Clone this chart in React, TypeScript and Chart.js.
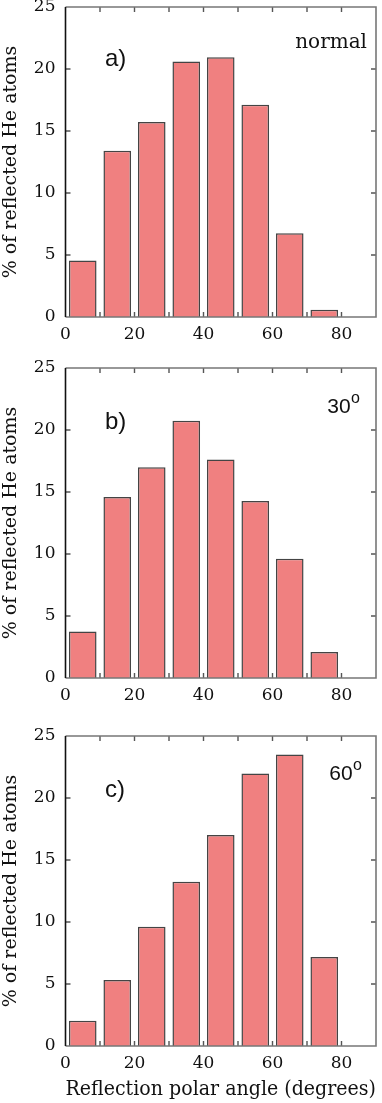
import React, { useEffect, useRef } from "react";
import { Chart, registerables } from "chart.js";

Chart.register(...registerables);

const binCenters = [5, 15, 25, 35, 45, 55, 65, 75];
const normalValues = [4.56, 13.41, 15.72, 20.6, 20.95, 17.11, 6.76, 0.59];
const deg30Values = [3.76, 14.6, 17.0, 20.75, 17.63, 14.27, 9.62, 2.1];
const deg60Values = [2.04, 5.32, 9.61, 13.24, 17.02, 21.97, 23.5, 7.17];
const xTickLabels = [0, 20, 40, 60, 80];
const yTitle = "% of reflected He atoms";
const xTitle = "Reflection polar angle (degrees)";

type PanelProps = {
  values: number[];
  letter: string;
  note: string;
  sup: boolean;
  height: number;
  padTop: number;
  xHeight: number;
  showXTitle: boolean;
  letterDy: number;
  noteDy: number;
  noteRight: number;
};

const SERIF = "'DejaVu Serif', serif";
const SANS = "'Liberation Sans', Arial, sans-serif";

function Panel(p: PanelProps) {
  const ref = useRef<HTMLCanvasElement | null>(null);
  useEffect(() => {
    if (!ref.current) return;
    const framePlugin = {
      id: "frameTicks",
      afterDatasetsDraw(chart: any) {
        const { ctx, chartArea } = chart;
        const { left, right, top, bottom } = chartArea;
        const xs = chart.scales.x;
        const ys = chart.scales.y;
        ctx.save();
        ctx.strokeStyle = "#555";
        ctx.lineWidth = 1.4;
        const tl = 5;
        ctx.beginPath();
        xs.ticks.forEach((t: any) => {
          const px = xs.getPixelForValue(t.value);
          if (t.value <= xs.min || t.value >= xs.max) return;
          ctx.moveTo(px, bottom);
          ctx.lineTo(px, bottom - tl);
          ctx.moveTo(px, top);
          ctx.lineTo(px, top + tl);
        });
        ys.ticks.forEach((t: any) => {
          const py = ys.getPixelForValue(t.value);
          if (t.value <= ys.min || t.value >= ys.max) return;
          ctx.moveTo(left, py);
          ctx.lineTo(left + tl, py);
          ctx.moveTo(right, py);
          ctx.lineTo(right - tl, py);
        });
        ctx.stroke();
        // frame
        ctx.strokeStyle = "#777";
        ctx.lineWidth = 1.6;
        ctx.beginPath();
        ctx.moveTo(left, top);
        ctx.lineTo(right, top);
        ctx.lineTo(right, bottom);
        ctx.lineTo(left, bottom);
        ctx.stroke();
        ctx.strokeStyle = "#111";
        ctx.beginPath();
        ctx.moveTo(left, top);
        ctx.lineTo(left, bottom);
        ctx.stroke();
        // annotations
        ctx.fillStyle = "#111";
        ctx.textBaseline = "middle";
        ctx.textAlign = "left";
        ctx.font = `24px ${SANS}`;
        ctx.fillText(p.letter, left + 39.5, top + p.letterDy);
        if (p.sup) {
          ctx.font = `16px ${SANS}`;
          const supW = ctx.measureText("o").width;
          ctx.textAlign = "right";
          ctx.fillText("o", right - p.noteRight, top + p.noteDy - 9);
          ctx.font = `21px ${SANS}`;
          ctx.fillText(p.note, right - p.noteRight - supW - 0.5, top + p.noteDy);
        } else {
          ctx.textAlign = "right";
          ctx.font = `20px ${SERIF}`;
          ctx.fillText(p.note, right - p.noteRight, top + p.noteDy);
        }
        ctx.restore();
      },
    };
    const chart = new Chart(ref.current, {
      type: "bar",
      data: {
        labels: binCenters,
        datasets: [
          {
            data: binCenters.map((x, i) => ({ x, y: p.values[i] })),
            backgroundColor: "#F08080",
            borderColor: "#444",
            borderWidth: 1.5,
            barPercentage: 0.8,
            categoryPercentage: 1,
          },
        ],
      },
      options: {
        animation: false,
        responsive: false,
        maintainAspectRatio: false,
        layout: { padding: { top: p.padTop, right: 6, left: 0, bottom: 0 } },
        plugins: { legend: { display: false }, tooltip: { enabled: false } },
        scales: {
          x: {
            type: "linear",
            min: 0,
            max: 90,
            offset: false,
            grid: { display: false, drawTicks: false },
            border: { display: false },
            ticks: {
              stepSize: 10,
              autoSkip: false,
              maxRotation: 0,
              padding: 7,
              color: "#111",
              font: { family: SERIF, size: 17 },
              callback: (v: any) => (xTickLabels.includes(Number(v)) ? String(v) : ""),
            },
            title: {
              display: p.showXTitle,
              text: xTitle,
              color: "#111",
              font: { family: SERIF, size: 20 },
              padding: { top: 4, bottom: 1 },
            },
            afterFit: (s: any) => {
              s.height = p.xHeight;
              s.paddingLeft = 0;
              s.paddingRight = 0;
            },
          },
          y: {
            min: 0,
            max: 25,
            grid: { display: false, drawTicks: false },
            border: { display: false },
            ticks: {
              stepSize: 5,
              padding: 10,
              color: "#111",
              font: { family: SERIF, size: 17 },
            },
            title: {
              display: true,
              text: yTitle,
              color: "#111",
              font: { family: SERIF, size: 19 },
              padding: { top: 0, bottom: 0 },
            },
            afterFit: (s: any) => {
              s.width = 65.5;
              s.paddingTop = 0;
              s.paddingBottom = 0;
            },
          },
        },
      },
      plugins: [framePlugin],
    } as any);
    return () => chart.destroy();
  }, []);
  return (
    <canvas
      ref={ref}
      width={382}
      height={p.height}
      style={{ display: "block", width: 382, height: p.height }}
    />
  );
}

export default function App() {
  return (
    <div style={{ position: "absolute", left: 0, top: 0, width: 382, height: 1103, background: "#fff" }}>
      <Panel values={normalValues} letter="a)" note="normal" sup={false} height={360} padTop={7} xHeight={43} showXTitle={false} letterDy={52} noteDy={36} noteRight={9} />
      <Panel values={deg30Values} letter="b)" note="30" sup={true} height={360} padTop={8} xHeight={42} showXTitle={false} letterDy={54} noteDy={39.5} noteRight={16} />
      <Panel values={deg60Values} letter="c)" note="60" sup={true} height={383} padTop={16} xHeight={57} showXTitle={true} letterDy={54} noteDy={38.5} noteRight={14} />
    </div>
  );
}
